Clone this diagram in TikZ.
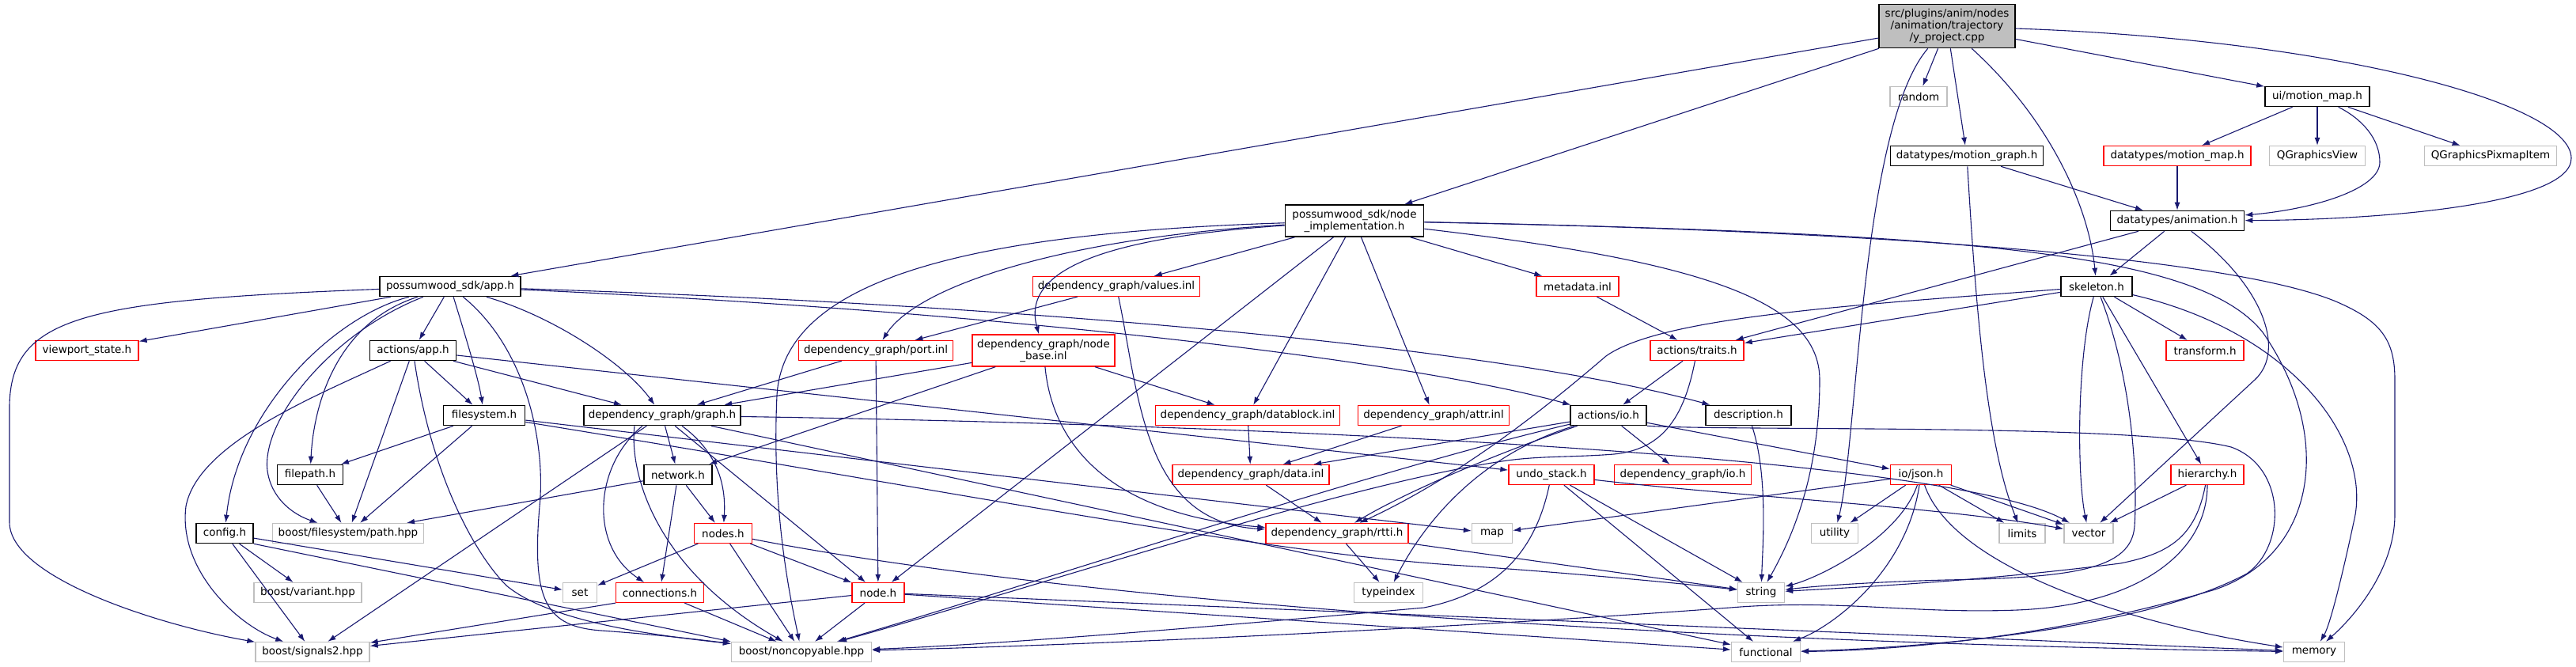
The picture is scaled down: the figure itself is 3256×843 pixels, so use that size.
\documentclass[tikz,border=0pt]{standalone}
\usepackage{fontspec}
\setmainfont{DejaVu Sans}
\usetikzlibrary{arrows.meta}
\definecolor{edgeblue}{HTML}{191970}
\definecolor{sysgrey}{HTML}{BFBFBF}
\definecolor{rootgrey}{HTML}{BFBFBF}
\definecolor{truncred}{HTML}{FF0000}
\tikzset{
  file/.style={draw=black, line width=1.6pt, fill=white, minimum height=25pt, inner sep=0pt, align=center, font=\fontsize{13.5}{15}\selectfont},
  trunc/.style={file, draw=truncred, line width=1.3pt},
  sysfile/.style={file, draw=sysgrey, line width=1.3pt},
  inc/.style={draw=edgeblue, line width=1.1pt, -{Latex[length=10pt,width=7pt]}},
}

\begin{document}
\begin{tikzpicture}[x=1pt, y=-1pt]
	\useasboundingbox (0,0) rectangle (3256,843);
	% Files:
	\node[file, fill=rootgrey, minimum width=172pt, minimum height=55pt] (root) at (2461,33) {src/plugins/anim/nodes\\/animation/trajectory\\/y\_project.cpp};
	\node[sysfile, minimum width=72pt] (rand) at (2425,122) {random};
	\node[file, minimum width=132pt] (uimm) at (2929,122) {ui/motion\_map.h};
	\node[file, minimum width=193pt] (dtmg) at (2486,197) {datatypes/motion\_graph.h};
	\node[trunc, minimum width=186pt] (dtmm) at (2752,197) {datatypes/motion\_map.h};
	\node[sysfile, minimum width=121pt] (qgv) at (2929,197) {QGraphicsView};
	\node[sysfile, minimum width=167pt] (qgpi) at (3148,197) {QGraphicsPixmapItem};
	\node[file, minimum width=169pt] (anim) at (2752,279) {datatypes/animation.h};
	\node[file, minimum width=175pt, minimum height=40pt] (nimpl) at (1712,279) {possumwood\_sdk/node\\\_implementation.h};
	\node[file, minimum width=178pt] (apph) at (569,362) {possumwood\_sdk/app.h};
	\node[trunc, minimum width=211pt] (values) at (1411,362) {dependency\_graph/values.inl};
	\node[trunc, minimum width=104pt] (metadata) at (1994,362) {metadata.inl};
	\node[file, minimum width=90pt] (skel) at (2650,362) {skeleton.h};
	\node[trunc, minimum width=130pt] (viewport) at (110,443) {viewport\_state.h};
	\node[file, minimum width=109pt] (actapp) at (522,443) {actions/app.h};
	\node[trunc, minimum width=195pt] (port) at (1107,443) {dependency\_graph/port.inl};
	\node[trunc, minimum width=180pt, minimum height=40pt] (nodebase) at (1319,443) {dependency\_graph/node\\\_base.inl};
	\node[trunc, minimum width=118pt] (traits) at (2145,443) {actions/traits.h};
	\node[trunc, minimum width=98pt] (transform) at (2787,443) {transform.h};
	\node[file, minimum width=103pt] (fsys) at (612,525) {filesystem.h};
	\node[file, minimum width=198pt] (graph) at (837,525) {dependency\_graph/graph.h};
	\node[trunc, minimum width=233pt] (datablock) at (1577,525) {dependency\_graph/datablock.inl};
	\node[trunc, minimum width=191pt] (attr) at (1812,525) {dependency\_graph/attr.inl};
	\node[file, minimum width=96pt] (actio) at (2033,525) {actions/io.h};
	\node[file, minimum width=108pt] (descr) at (2210,525) {description.h};
	\node[file, minimum width=83pt] (filepath) at (392,600) {filepath.h};
	\node[file, minimum width=86pt] (network) at (857,600) {network.h};
	\node[trunc, minimum width=198pt] (datainl) at (1581,600) {dependency\_graph/data.inl};
	\node[trunc, minimum width=108pt] (undo) at (1961,600) {undo\_stack.h};
	\node[trunc, minimum width=173pt] (dgio) at (2127,600) {dependency\_graph/io.h};
	\node[trunc, minimum width=77pt] (json) at (2428,600) {io/json.h};
	\node[trunc, minimum width=92pt] (hier) at (2790,600) {hierarchy.h};
	\node[file, minimum width=72pt] (config) at (284,674) {config.h};
	\node[sysfile, minimum width=191pt] (bfpath) at (440,674) {boost/filesystem/path.hpp};
	\node[trunc, minimum width=73pt] (nodes) at (914,674) {nodes.h};
	\node[trunc, minimum width=180pt] (rtti) at (1690,674) {dependency\_graph/rtti.h};
	\node[sysfile, minimum width=51pt] (map) at (1886,674) {map};
	\node[sysfile, minimum width=59pt] (utility) at (2319,674) {utility};
	\node[sysfile, minimum width=58pt] (limits) at (2556,674) {limits};
	\node[sysfile, minimum width=62pt] (vector) at (2640,674) {vector};
	\node[sysfile, minimum width=136pt] (variant) at (389,749) {boost/variant.hpp};
	\node[sysfile, minimum width=43pt] (set) at (733,749) {set};
	\node[trunc, minimum width=111pt] (conn) at (834,749) {connections.h};
	\node[trunc, minimum width=66pt] (nodeh) at (1110,749) {node.h};
	\node[sysfile, minimum width=87pt] (typeidx) at (1755,749) {typeindex};
	\node[sysfile, minimum width=59pt] (string) at (2226,749) {string};
	\node[sysfile, minimum width=144pt] (signals) at (395,824) {boost/signals2.hpp};
	\node[sysfile, minimum width=177pt] (noncopy) at (1013,824) {boost/noncopyable.hpp};
	\node[sysfile, minimum width=87pt] (functional) at (2232,824) {functional};
	\node[sysfile, minimum width=77pt] (memory) at (2925,824) {memory};

	% Includes of the source file:
	\draw[inc] (root) -- (apph);
	\draw[inc] (root) -- (nimpl);
	\draw[inc] (root) .. controls (2352,160) and (2348,560) .. (utility);
	\draw[inc] (root) -- (rand);
	\draw[inc] (root) -- (dtmg);
	\draw[inc] (root) .. controls (2590,150) and (2640,260) .. (skel);
	\draw[inc] (root) -- (uimm);
	\draw[inc] (root) .. controls (2950,50) and (3250,130) .. (3250,200) .. controls (3250,260) and (3000,278) .. (anim);

	% ui and datatypes:
	\draw[inc] (uimm) -- (dtmm);
	\draw[inc] (uimm) -- (qgv);
	\draw[inc] (uimm) .. controls (2985,150) and (3008,175) .. (3008,205) .. controls (3008,240) and (2920,265) .. (anim);
	\draw[inc] (uimm) -- (qgpi);
	\draw[inc] (dtmm) -- (anim);
	\draw[inc] (dtmg) -- (anim);
	\draw[inc] (dtmg) .. controls (2497,380) and (2510,560) .. (limits);
	\draw[inc] (anim) -- (traits);
	\draw[inc] (anim) -- (skel);
	\draw[inc] (anim) .. controls (2860,360) and (2890,443) .. (2850,480) -- (vector);

	% skeleton.h:
	\draw[inc] (skel) -- (traits);
	\draw[inc] (skel) .. controls (2350,385) and (2100,400) .. (2030,450) .. controls (1960,510) and (1850,600) .. (rtti);
	\draw[inc] (skel) -- (transform);
	\draw[inc] (skel) -- (hier);
	\draw[inc] (skel) .. controls (2625,450) and (2625,600) .. (vector);
	\draw[inc] (skel) .. controls (2695,480) and (2702,600) .. (2698,665) .. controls (2694,720) and (2620,730) .. (2460,733) .. controls (2380,735) and (2300,740) .. (string);
	\draw[inc] (skel) .. controls (2900,420) and (3000,560) .. (2975,660) .. controls (2960,730) and (2945,790) .. (memory);

	% node_implementation.h:
	\draw[inc] (nimpl) -- (values);
	\draw[inc] (nimpl) .. controls (1350,300) and (1160,360) .. (port);
	\draw[inc] (nimpl) .. controls (1400,300) and (1290,340) .. (nodebase);
	\draw[inc] (nimpl) .. controls (1200,295) and (990,360) .. (982,500) .. controls (975,650) and (1000,760) .. (noncopy);
	\draw[inc] (nimpl) -- (datablock);
	\draw[inc] (nimpl) -- (attr);
	\draw[inc] (nimpl) -- (metadata);
	\draw[inc] (nimpl) -- (nodeh);
	\draw[inc] (nimpl) .. controls (2150,330) and (2300,380) .. (2300,480) .. controls (2300,600) and (2265,680) .. (string);
	\draw[inc] (nimpl) .. controls (2300,290) and (2800,320) .. (2950,380) .. controls (3010,405) and (3027,430) .. (3027,480) -- (3027,650) .. controls (3027,720) and (2975,780) .. (memory);
	\draw[inc] (nimpl) .. controls (2500,295) and (2780,320) .. (2860,420) .. controls (2950,550) and (2930,700) .. (2800,745) .. controls (2600,805) and (2400,822) .. (functional);

	% app.h:
	\draw[inc] (apph) .. controls (100,380) and (10,400) .. (12,520) -- (12,660) .. controls (12,730) and (200,790) .. (signals);
	\draw[inc] (apph) -- (viewport);
	\draw[inc] (apph) .. controls (420,400) and (300,520) .. (config);
	\draw[inc] (apph) .. controls (420,420) and (330,530) .. (338,595) .. controls (343,630) and (370,650) .. (bfpath);
	\draw[inc] (apph) .. controls (420,410) and (396,520) .. (filepath);
	\draw[inc] (apph) -- (actapp);
	\draw[inc] (apph) .. controls (590,430) and (605,480) .. (fsys);
	\draw[inc] (apph) .. controls (665,440) and (690,560) .. (682,640) .. controls (672,760) and (690,792) .. (760,797) .. controls (830,802) and (880,808) .. (noncopy);
	\draw[inc] (apph) .. controls (700,400) and (790,460) .. (graph);
	\draw[inc] (apph) .. controls (1300,385) and (1900,440) .. (descr);
	\draw[inc] (apph) .. controls (1300,395) and (1800,460) .. (actio);

	% actions/app.h and filesystem.h:
	\draw[inc] (actapp) .. controls (400,500) and (250,560) .. (235,640) .. controls (225,720) and (300,790) .. (signals);
	\draw[inc] (actapp) -- (bfpath);
	\draw[inc] (actapp) .. controls (545,600) and (600,700) .. (640,740) .. controls (700,790) and (850,805) .. (noncopy);
	\draw[inc] (actapp) -- (fsys);
	\draw[inc] (actapp) -- (graph);
	\draw[inc] (actapp) -- (undo);
	\draw[inc] (fsys) -- (filepath);
	\draw[inc] (fsys) -- (bfpath);
	\draw[inc] (fsys) -- (map);
	\draw[inc] (fsys) .. controls (1200,620) and (1600,700) .. (1850,715) .. controls (2000,725) and (2150,740) .. (string);
	\draw[inc] (filepath) -- (bfpath);
	\draw[inc] (config) -- (signals);
	\draw[inc] (config) -- (variant);
	\draw[inc] (config) -- (set);
	\draw[inc] (config.south east) -- (noncopy.north west);

	% graph.h and below:
	\draw[inc] (graph) -- (signals);
	\draw[inc] ([xshift=-25pt]graph.south) .. controls (750,590) and (745,690) .. (conn);
	\draw[inc] ([xshift=-35pt]graph.south) .. controls (795,600) and (830,720) .. (noncopy);
	\draw[inc] (graph) -- (network);
	\draw[inc] ([xshift=25pt]graph.south) .. controls (905,570) and (918,610) .. (nodes);
	\draw[inc] (graph) -- (nodeh);
	\draw[inc] (graph) .. controls (1500,535) and (2450,570) .. (vector);
	\draw[inc] (graph) -- (functional);
	\draw[inc] (network) -- (bfpath);
	\draw[inc] (network) -- (nodes);
	\draw[inc] (network) -- (conn);
	\draw[inc] (nodes) -- (set);
	\draw[inc] (nodes) -- (noncopy);
	\draw[inc] (nodes) -- (nodeh);
	\draw[inc] (nodes) .. controls (1300,750) and (2000,810) .. (memory);
	\draw[inc] (conn.south west) -- (signals);
	\draw[inc] (conn) -- (noncopy);
	\draw[inc] (nodeh) -- (signals);
	\draw[inc] (nodeh) -- (noncopy);
	\draw[inc] (nodeh) -- (functional);
	\draw[inc] (nodeh) -- (memory);

	% dependency_graph inlines:
	\draw[inc] (values) -- (port);
	\draw[inc] (values) .. controls (1440,500) and (1445,660) .. (rtti);
	\draw[inc] (port) -- (graph);
	\draw[inc] (port) -- (nodeh);
	\draw[inc] (nodebase) -- (graph);
	\draw[inc] (nodebase) -- (network);
	\draw[inc] (nodebase) -- (datablock);
	\draw[inc] (nodebase) .. controls (1330,560) and (1400,650) .. (rtti);
	\draw[inc] (datablock) -- (datainl);
	\draw[inc] (attr) -- (datainl);
	\draw[inc] (datainl) -- (rtti);
	\draw[inc] (rtti) -- (string);
	\draw[inc] (rtti) -- (typeidx);

	% actions:
	\draw[inc] (metadata) -- (traits);
	\draw[inc] (traits) -- (actio);
	\draw[inc] (traits) .. controls (2128,530) and (2100,568) .. (2040,574) .. controls (1990,578) and (1950,576) .. (1905,582) .. controls (1700,612) and (1350,730) .. (noncopy);
	\draw[inc] (actio) -- (datainl);
	\draw[inc] (actio) .. controls (1900,570) and (1780,620) .. (rtti);
	\draw[inc] (actio) .. controls (1750,590) and (1300,740) .. (noncopy);
	\draw[inc] (actio) .. controls (1870,575) and (1800,660) .. (typeidx);
	\draw[inc] (actio) -- (dgio);
	\draw[inc] (actio) -- (json);
	\draw[inc] (actio.south east) .. controls (2200,545) and (2700,535) .. (2820,565) .. controls (2890,590) and (2890,690) .. (2840,725) .. controls (2700,800) and (2400,820) .. (functional);
	\draw[inc] (descr) .. controls (2235,600) and (2228,690) .. (string);

	% undo_stack.h, io/json.h and hierarchy.h:
	\draw[inc] (undo) .. controls (1940,700) and (1890,750) .. (1800,768) .. controls (1500,795) and (1250,815) .. (noncopy);
	\draw[inc] (undo) -- (string);
	\draw[inc] (undo) -- (functional);
	\draw[inc] (undo) .. controls (2200,628) and (2450,640) .. (vector);
	\draw[inc] (json) -- (map);
	\draw[inc] (json) -- (utility);
	\draw[inc] (json) -- (limits);
	\draw[inc] (json) -- (vector);
	\draw[inc] (json) .. controls (2400,680) and (2300,730) .. (string);
	\draw[inc] (json) .. controls (2410,720) and (2320,790) .. (functional);
	\draw[inc] (json) .. controls (2470,720) and (2700,790) .. (memory);
	\draw[inc] (hier) -- (vector);
	\draw[inc] (hier) .. controls (2775,680) and (2740,700) .. (2680,712) .. controls (2500,735) and (2350,742) .. (string);
	\draw[inc] (hier) .. controls (2790,700) and (2700,765) .. (2550,771) .. controls (2420,776) and (2330,758) .. (2200,767) .. controls (1900,790) and (1400,815) .. (noncopy);
\end{tikzpicture}
\end{document}
